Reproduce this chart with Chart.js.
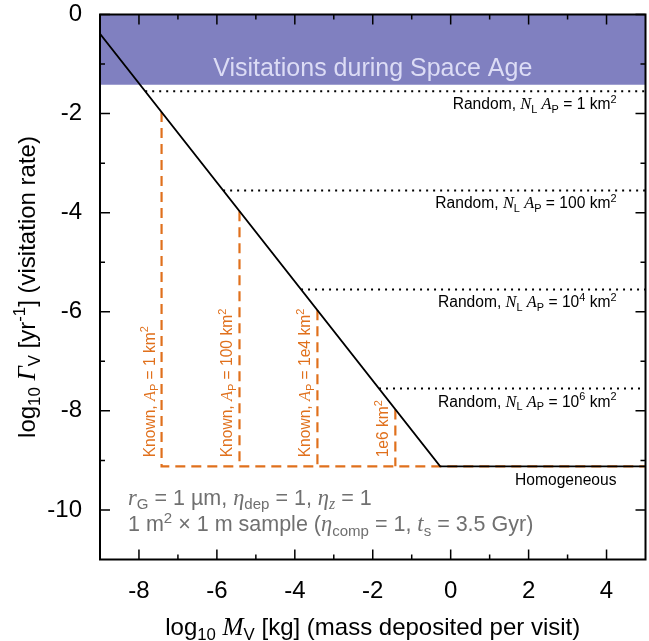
<!DOCTYPE html>
<html>
<head>
<meta charset="utf-8">
<script src="https://cdn.jsdelivr.net/npm/chart.js@4.4.1/dist/chart.umd.min.js"></script>
<style>
  html, body { margin: 0; padding: 0; background: #fff; }
  #wrap { width: 649px; height: 641px; position: relative; }
</style>
</head>
<body>
<div id="wrap"><canvas id="chart"></canvas></div>
<script>
// values, all in log10 units
const massTicks = [-8, -6, -4, -2, 0, 2, 4];
const massMinor = [-7, -5, -3, -1, 1, 3];
const rateTicks = [0, -2, -4, -6, -8, -10];
const rateMinor = [-1, -3, -5, -7, -9];

const visitMass = [-9, -0.27, 5];
const visitRate = [-0.39, -9.12, -9.12];

const spaceAgeRate = -1.42;

const randomRate = [-1.55, -3.55, -5.55, -7.55];
const randomStart = [-7.84, -5.84, -3.84, -1.84];
const randomArea = ['1', '100', '10|4', '10|6'];

const knownMass = [-7.42, -5.42, -3.42, -1.42];
const knownTop = [-1.97, -3.97, -5.97, -7.97];
const knownArea = ['1', '100', '1e4', '1e6'];

const homogeneousRate = -9.12;

const ORANGE = '#e0701c';
const SANS = '"Liberation Sans", Arial, sans-serif';
const SERIF = '"Liberation Serif", "Times New Roman", serif';

// segs: [text, kind]; kind may contain 'i' (italic serif), '_' (sub), '^' (sup)
function segFont(kind, size) {
    let s = (kind.includes('_') || kind.includes('^')) ? size * 0.7 : size;
    if (kind.includes('i')) return `italic ${s * 1.05}px ${SERIF}`;
    return `${s}px ${SANS}`;
}
function richWidth(ctx, segs, size) {
    let w = 0;
    for (const [t, k] of segs) { ctx.font = segFont(k, size); w += ctx.measureText(t).width; }
    return w;
}
function drawRich(ctx, segs, x, y, size, align, color) {
    const w = richWidth(ctx, segs, size);
    let cx = align === 'right' ? x - w : align === 'center' ? x - w / 2 : x;
    ctx.save();
    ctx.fillStyle = color;
    ctx.textAlign = 'left';
    ctx.textBaseline = 'alphabetic';
    for (const [t, k] of segs) {
        ctx.font = segFont(k, size);
        let dy = 0;
        if (k.includes('_')) dy = size * 0.22;
        if (k.includes('^')) dy = -size * 0.4;
        ctx.fillText(t, cx, y + dy);
        cx += ctx.measureText(t).width;
    }
    ctx.restore();
}

function areaSegs(a) {
    if (a.includes('|')) {
        const [b, e] = a.split('|');
        return [[' = ' + b, ''], [e, '^'], [' km', ''], ['2', '^']];
    }
    return [[' = ' + a + ' km', ''], ['2', '^']];
}

const figurePlugin = {
    id: 'figure',
    afterDatasetsDraw(chart) {
        const ctx = chart.ctx;
        const a = chart.chartArea;
        const xs = chart.scales.x, ys = chart.scales.y;

        // band caption
        ctx.save();
        ctx.font = `25px ${SANS}`;
        ctx.fillStyle = '#dcdcf5';
        ctx.textAlign = 'center';
        ctx.textBaseline = 'alphabetic';
        ctx.fillText('Visitations during Space Age', (a.left + a.right) / 2, ys.getPixelForValue(spaceAgeRate) - 9);
        ctx.restore();

        // random labels
        randomRate.forEach((r, i) => {
            const segs = [['Random, ', ''], ['N', 'i'], ['L', '_'], [' ', ''], ['A', 'i'], ['P', '_']].concat(areaSegs(randomArea[i]));
            drawRich(ctx, segs, a.right - 29, ys.getPixelForValue(r) + 18, 15.6, 'right', '#000');
        });
        drawRich(ctx, [['Homogeneous', '']], a.right - 29, ys.getPixelForValue(homogeneousRate) + 19, 15.6, 'right', '#000');

        // known labels (rotated)
        knownMass.forEach((m, i) => {
            const segs = i < 3
                ? [['Known, ', ''], ['A', 'i'], ['P', '_'], [' = ' + knownArea[i] + ' km', ''], ['2', '^']]
                : [[knownArea[i] + ' km', ''], ['2', '^']];
            ctx.save();
            ctx.translate(xs.getPixelForValue(m) - 7, ys.getPixelForValue(homogeneousRate) - 9);
            ctx.rotate(-Math.PI / 2);
            drawRich(ctx, segs, 0, 0, 15.6, 'left', ORANGE);
            ctx.restore();
        });

        // parameter note
        const nx = a.left + 28;
        drawRich(ctx, [['r', 'i'], ['G', '_'], [' = 1 \u00b5m, ', ''], ['\u03b7', 'i'], ['dep', '_'], [' = 1, ', ''], ['\u03b7', 'i'], ['z', '_i'], [' = 1', '']],
            nx, ys.getPixelForValue(-9.89), 21.5, 'left', '#707070');
        drawRich(ctx, [['1 m', ''], ['2', '^'], [' \u00d7 1 m sample (', ''], ['\u03b7', 'i'], ['comp', '_'], [' = 1, ', ''], ['t', 'i'], ['s', '_'], [' = 3.5 Gyr)', '']],
            nx, ys.getPixelForValue(-10.43), 21.5, 'left', '#707070');

        // frame
        ctx.save();
        ctx.strokeStyle = '#000';
        ctx.lineWidth = 2;
        ctx.strokeRect(a.left, a.top, a.right - a.left, a.bottom - a.top);

        // inward ticks on all four sides
        ctx.lineWidth = 1.5;
        ctx.beginPath();
        const tickX = (v, len) => {
            const p = xs.getPixelForValue(v);
            ctx.moveTo(p, a.bottom); ctx.lineTo(p, a.bottom - len);
            ctx.moveTo(p, a.top); ctx.lineTo(p, a.top + len);
        };
        const tickY = (v, len) => {
            const p = ys.getPixelForValue(v);
            ctx.moveTo(a.left, p); ctx.lineTo(a.left + len, p);
            ctx.moveTo(a.right, p); ctx.lineTo(a.right - len, p);
        };
        massTicks.forEach(v => tickX(v, 10));
        massMinor.forEach(v => tickX(v, 5));
        rateTicks.forEach(v => tickY(v, 10));
        rateMinor.forEach(v => tickY(v, 5));
        ctx.stroke();
        ctx.restore();

        // axis titles
        drawRich(ctx, [['log', ''], ['10', '_'], [' ', ''], ['M', 'i'], ['V', '_'], [' [kg] (mass deposited per visit)', '']],
            (a.left + a.right) / 2, 635, 24, 'center', '#000');
        ctx.save();
        ctx.translate(35, (a.top + a.bottom) / 2);
        ctx.rotate(-Math.PI / 2);
        drawRich(ctx, [['log', ''], ['10', '_'], [' ', ''], ['\u0393', 'i'], ['V', '_'], [' [yr', ''], ['-1', '^'], ['] (visitation rate)', '']],
            0, 0, 24, 'center', '#000');
        ctx.restore();
    }
};

const line = (xs, ys) => xs.map((x, i) => ({ x: x, y: ys[i] }));

const datasets = [];
datasets.push({
    data: line([-9, 5], [spaceAgeRate, spaceAgeRate]),
    fill: 'end', backgroundColor: '#8080c0', borderWidth: 0, order: 10
});
randomRate.forEach((r, i) => datasets.push({
    data: line([randomStart[i], 5], [r, r]),
    borderColor: '#000', borderWidth: 2, borderDash: [2, 5], order: 5
}));
knownMass.forEach((m, i) => datasets.push({
    data: i === 0
        ? line([m, m, 5], [knownTop[i], homogeneousRate, homogeneousRate])
        : line([m, m], [knownTop[i], homogeneousRate]),
    borderColor: ORANGE, borderWidth: 2.2, borderDash: [10, 6], order: 3
}));
datasets.push({
    data: line(visitMass, visitRate),
    borderColor: '#000', borderWidth: 1.8, order: 1
});
datasets.forEach(d => { d.showLine = true; d.pointRadius = 0; d.tension = 0; });

new Chart(document.getElementById('chart'), {
    type: 'scatter',
    data: { datasets: datasets },
    options: {
        responsive: true,
        maintainAspectRatio: false,
        animation: false,
        events: [],
        layout: { padding: { top: 14.5, right: 3.5, left: 0, bottom: 0 } },
        plugins: { legend: { display: false }, tooltip: { enabled: false } },
        scales: {
            x: {
                type: 'linear', min: -9, max: 5,
                grid: { display: false }, border: { display: false },
                afterBuildTicks: s => { s.ticks = massTicks.map(v => ({ value: v })); },
                afterFit: s => { s.height = 81.5; s.paddingLeft = 0; s.paddingRight = 0; },
                ticks: { padding: 9, color: '#000', font: { family: SANS, size: 24 }, callback: v => String(v) }
            },
            y: {
                type: 'linear', min: -11, max: 0,
                grid: { display: false }, border: { display: false },
                afterBuildTicks: s => { s.ticks = rateTicks.map(v => ({ value: v })); },
                afterFit: s => { s.width = 100; s.paddingTop = 0; s.paddingBottom = 0; },
                ticks: { padding: 10, color: '#000', font: { family: SANS, size: 24 }, callback: v => String(v) }
            }
        }
    },
    plugins: [figurePlugin]
});
</script>
</body>
</html>
